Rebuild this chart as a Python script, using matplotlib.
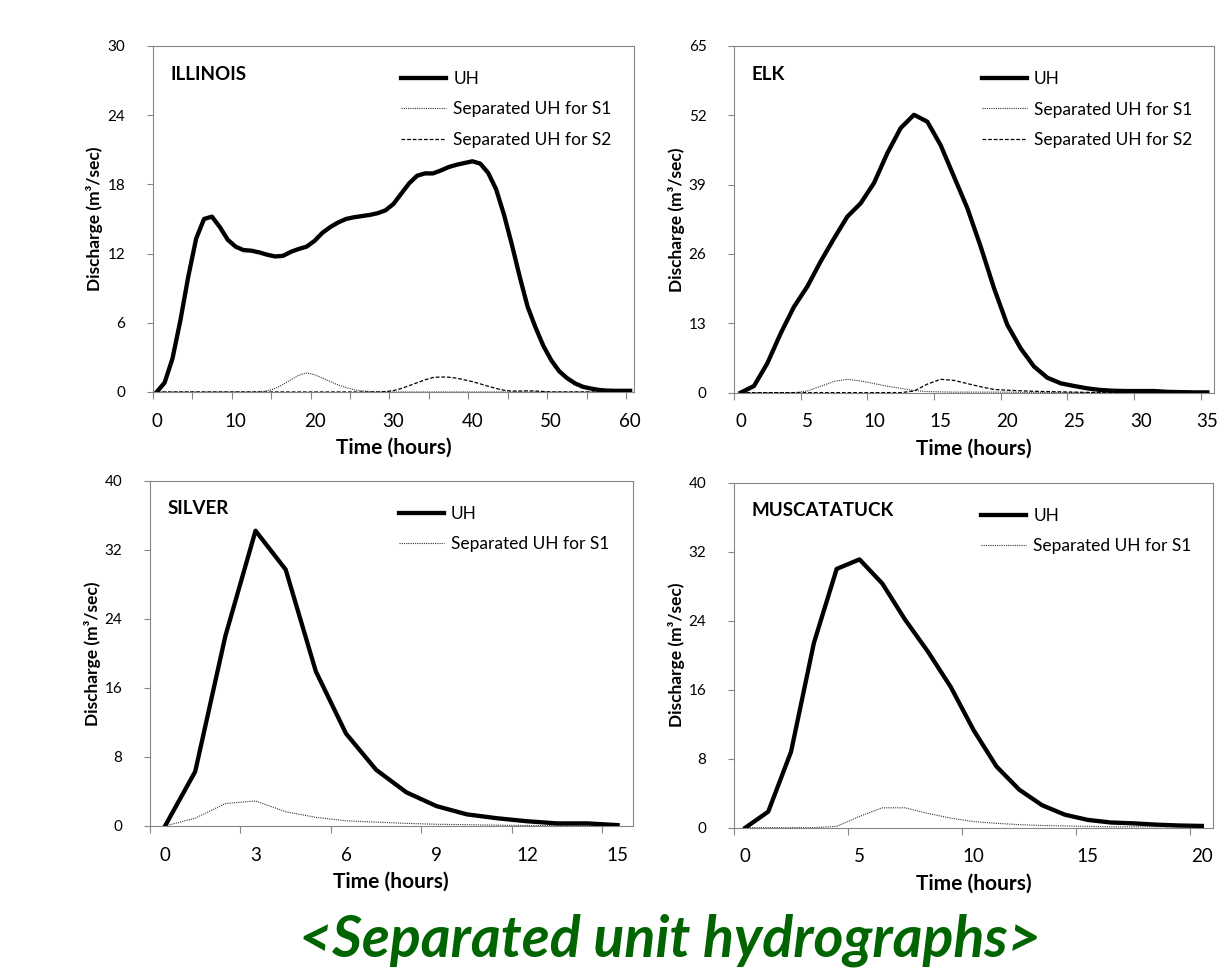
import numpy as np
import matplotlib.pyplot as plt

plt.rcParams['font.family'] = ['Lato', 'DejaVu Sans']

# ILLINOIS, hourly 0-60 h
illinois_t = list(range(0, 61))
illinois_uh = [0.0, 0.8, 2.9, 6.2, 10.0, 13.3, 15.0, 15.2, 14.3, 13.2,
               12.6, 12.3, 12.25, 12.1, 11.9, 11.75, 11.8, 12.15, 12.4, 12.6,
               13.1, 13.8, 14.3, 14.7, 15.0, 15.15, 15.25, 15.35, 15.5, 15.75,
               16.3, 17.2, 18.1, 18.75, 18.95, 18.95, 19.2, 19.5, 19.7, 19.85,
               20.0, 19.8, 19.0, 17.6, 15.4, 12.8, 10.0, 7.4, 5.6, 4.0,
               2.75, 1.8, 1.2, 0.75, 0.45, 0.3, 0.18, 0.12, 0.1, 0.1, 0.1]
illinois_s1 = [0, 0, 0, 0, 0, 0, 0, 0, 0, 0,
               0, 0, 0, 0.02, 0.1, 0.3, 0.65, 1.05, 1.45, 1.65,
               1.5, 1.2, 0.9, 0.6, 0.38, 0.2, 0.1, 0.04, 0, 0,
               0, 0, 0, 0, 0, 0, 0, 0, 0, 0,
               0, 0, 0, 0, 0, 0, 0, 0, 0, 0,
               0, 0, 0, 0, 0, 0, 0, 0, 0, 0, 0]
illinois_s2 = [0, 0, 0, 0, 0, 0, 0, 0, 0, 0,
               0, 0, 0, 0, 0, 0, 0, 0, 0, 0,
               0, 0, 0, 0, 0, 0, 0, 0, 0, 0.03,
               0.12, 0.3, 0.55, 0.8, 1.05, 1.25, 1.3, 1.28, 1.2, 1.05,
               0.9, 0.7, 0.5, 0.3, 0.15, 0.08, 0.08, 0.1, 0.08, 0.04,
               0, 0, 0, 0, 0, 0, 0, 0, 0, 0, 0]

# ELK, hourly 0-35 h
elk_t = list(range(0, 36))
elk_uh = [0.0, 1.25, 5.5, 11.1, 16.1, 19.9, 24.6, 28.9, 33.0, 35.5,
          39.3, 44.9, 49.6, 52.1, 50.8, 46.4, 40.5, 34.6, 27.4, 19.6,
          12.7, 8.3, 4.9, 2.8, 1.75, 1.25, 0.8, 0.5, 0.35, 0.3,
          0.3, 0.3, 0.15, 0.1, 0.05, 0.05]
elk_s1 = [0, 0, 0, 0, 0, 0.3, 1.2, 2.1, 2.5, 2.2,
          1.7, 1.2, 0.8, 0.4, 0.2, 0.15, 0.1, 0.1, 0.1, 0.1,
          0.1, 0.05, 0.05, 0, 0, 0, 0, 0, 0, 0,
          0, 0, 0, 0, 0, 0]
elk_s2 = [0, 0, 0, 0, 0, 0, 0, 0, 0, 0,
          0, 0, 0, 0.3, 1.6, 2.5, 2.3, 1.7, 1.1, 0.6,
          0.45, 0.35, 0.25, 0.2, 0.15, 0.1, 0.05, 0.05, 0.05, 0.05,
          0, 0, 0, 0, 0, 0]

# SILVER, hourly 0-15 h
silver_t = list(range(0, 16))
silver_uh = [0.0, 6.3, 22.0, 34.2, 29.7, 17.9, 10.7, 6.5, 3.9, 2.3,
             1.35, 0.9, 0.55, 0.3, 0.3, 0.1]
silver_s1 = [0.0, 0.9, 2.6, 2.9, 1.65, 1.0, 0.6, 0.45, 0.3, 0.2,
             0.15, 0.1, 0.05, 0.05, 0.05, 0.05]

# MUSCATATUCK, hourly 0-20 h
musc_t = list(range(0, 21))
musc_uh = [0.0, 1.85, 8.8, 21.4, 30.0, 31.1, 28.3, 24.1, 20.4, 16.3,
           11.3, 7.1, 4.4, 2.6, 1.5, 0.9, 0.6, 0.5, 0.35, 0.25, 0.2]
musc_s1 = [0.0, 0.0, 0.0, 0.0, 0.15, 1.3, 2.3, 2.3, 1.65, 1.1,
           0.7, 0.5, 0.35, 0.25, 0.2, 0.15, 0.1, 0.1, 0.1, 0.1, 0.1]

GRAY = '#868686'

panels = [
    dict(name='ILLINOIS', t=illinois_t, uh=illinois_uh, s1=illinois_s1, s2=illinois_s2,
         ymax=30, ystep=6, tick_step=5, label_step=10,
         rect=[0.1245, 0.5984, 0.3923, 0.3545]),
    dict(name='ELK', t=elk_t, uh=elk_uh, s1=elk_s1, s2=elk_s2,
         ymax=65, ystep=13, tick_step=5, label_step=5,
         rect=[0.5982, 0.5977, 0.3912, 0.3552]),
    dict(name='SILVER', t=silver_t, uh=silver_uh, s1=silver_s1, s2=None,
         ymax=40, ystep=8, tick_step=3, label_step=3,
         rect=[0.1222, 0.1537, 0.3934, 0.3538]),
    dict(name='MUSCATATUCK', t=musc_t, uh=musc_uh, s1=musc_s1, s2=None,
         ymax=40, ystep=8, tick_step=5, label_step=5,
         rect=[0.5982, 0.1520, 0.3906, 0.3535]),
]

fig = plt.figure(figsize=(12.27, 9.76), dpi=100)

for p in panels:
    ax = fig.add_axes(p['rect'])
    t = np.array(p['t'])
    h_uh, = ax.plot(t, p['uh'], color='black', lw=3.1, zorder=4,
                    solid_joinstyle='round', label='UH')
    h_s1, = ax.plot(t, p['s1'], color='#333333', lw=0.8, ls=(0, (1, 1)),
                    zorder=3, label='Separated UH for S1')
    handles = [h_uh, h_s1]
    if p['s2'] is not None:
        h_s2, = ax.plot(t, p['s2'], color='black', lw=0.9, ls=(0, (3, 1.5)),
                        zorder=3, label='Separated UH for S2')
        handles.append(h_s2)

    n = t[-1]
    ax.set_xlim(-0.5, n + 0.5)
    ax.set_ylim(0, p['ymax'])

    # category-style axis: tick marks between categories, labels on categories
    ax.set_xticks(np.arange(-0.5, n, p['tick_step']))
    ax.set_xticklabels([])
    lab = np.arange(0, n + 1, p['label_step'])
    ax.set_xticks(lab, minor=True)
    ax.set_xticklabels([str(v) for v in lab], minor=True, fontsize=13.5)
    ax.tick_params(axis='x', which='major', length=5, width=0.8, color=GRAY)
    ax.tick_params(axis='x', which='minor', length=0, pad=15)

    yt = np.arange(0, p['ymax'] + 0.1, p['ystep'])
    ax.set_yticks(yt)
    ax.set_yticklabels([str(int(v)) for v in yt], fontsize=11)
    ax.tick_params(axis='y', length=4.3, width=0.8, color=GRAY, pad=15.5)

    for s in ax.spines.values():
        s.set_color(GRAY)
        s.set_linewidth(0.8)

    ax.set_xlabel('Time (hours)', fontsize=15, fontweight='bold', labelpad=6)
    ax.set_ylabel('Discharge (m³/sec)', fontsize=12.5, fontweight='bold', labelpad=3)

    ax.text(0.036, 0.918, p['name'], transform=ax.transAxes, fontsize=13.5,
            fontweight='bold', va='center', ha='left')

    ax.legend(handles=handles, loc='upper left', bbox_to_anchor=(0.516, 0.927),
              frameon=False, fontsize=12.5, handlelength=2.6, handletextpad=0.4,
              labelspacing=0.82, borderpad=0, borderaxespad=0)

fig.text(0.546, 0.037, '<Separated unit hydrographs>', color='#006400',
         fontsize=41.3, fontweight='bold', style='italic', ha='center', va='center')

fig.savefig('out.png', dpi=100)
